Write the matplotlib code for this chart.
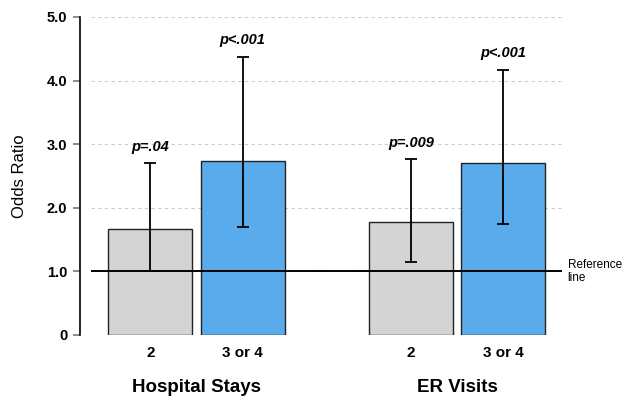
import matplotlib
matplotlib.use("Agg")
import matplotlib.pyplot as plt
import numpy as np

plt.rcParams['font.family'] = ['Liberation Sans', 'DejaVu Sans']

groups = ["Hospital Stays", "ER Visits"]
levels = ["2", "3 or 4", "2", "3 or 4"]
odds = [1.66, 2.73, 1.78, 2.70]
ci_low = [1.01, 1.70, 1.15, 1.75]
ci_high = [2.70, 4.37, 2.76, 4.17]
pvals = ["p=.04", "p<.001", "p=.009", "p<.001"]
colors = ["#d4d4d4", "#5aabec", "#d4d4d4", "#5aabec"]

x = np.array([0, 1.1, 3.1, 4.2])
odds = np.array(odds)
yerr = [odds - np.array(ci_low), np.array(ci_high) - odds]

fig = plt.figure(figsize=(6.25, 3.99), dpi=100)
ax = fig.add_axes([91 / 625, 64 / 399, 471 / 625, 318 / 399])

# spine changes first: they reset tick label styling
for s in ["top", "right", "bottom"]:
  ax.spines[s].set_visible(False)
ax.spines["left"].set_position(("outward", 8))
ax.spines["left"].set_bounds(0, 5)
ax.spines["left"].set_linewidth(1.2)

ax.set_ylim(0, 5)
ax.set_xlim(-0.706, 4.90)
ax.set_yticks([0, 1, 2, 3, 4, 5])
ax.set_yticklabels(["0", "1.0", "2.0", "3.0", "4.0", "5.0"], fontweight="bold", fontsize=10.5)
ax.tick_params(axis="y", length=5, width=1.2, color="#777777", pad=4)
ax.yaxis.grid(True, linestyle=(0, (3, 3)), color="#cccccc", linewidth=0.8)
ax.set_axisbelow(True)

ax.bar(x, odds, width=1.0, color=colors, edgecolor="#222222", linewidth=1, zorder=2)
ax.errorbar(x, odds, yerr=yerr, fmt="none", ecolor="black", elinewidth=1.3,
            capsize=4, capthick=1.3, zorder=4)

ax.axhline(1.0, color="black", linewidth=1.4, zorder=3)

for xi, hi, p in zip(x, ci_high, pvals):
  ax.annotate(p, xy=(xi, hi), xytext=(0, 7), textcoords="offset points",
              ha="center", va="bottom", fontsize=10.5, fontweight="bold", fontstyle="italic")

ax.text(1.012, 1.0, "Reference\nline", transform=ax.get_yaxis_transform(),
        ha="left", va="center", fontsize=8.5, linespacing=1.1)

ax.set_xticks(x)
ax.set_xticklabels(levels, fontweight="bold", fontsize=11)
ax.tick_params(axis="x", length=0, pad=8)

ax.set_ylabel("Odds Ratio", fontsize=12, labelpad=14)

for gi, g in enumerate(groups):
  cx = (x[2 * gi] + x[2 * gi + 1]) / 2
  ax.annotate(g, xy=(cx, 0), xycoords=("data", "axes fraction"), xytext=(0, -37.5),
              textcoords="offset points", ha="center", va="center",
              fontsize=13.5, fontweight="bold")

fig.savefig("out.png", dpi=100)
